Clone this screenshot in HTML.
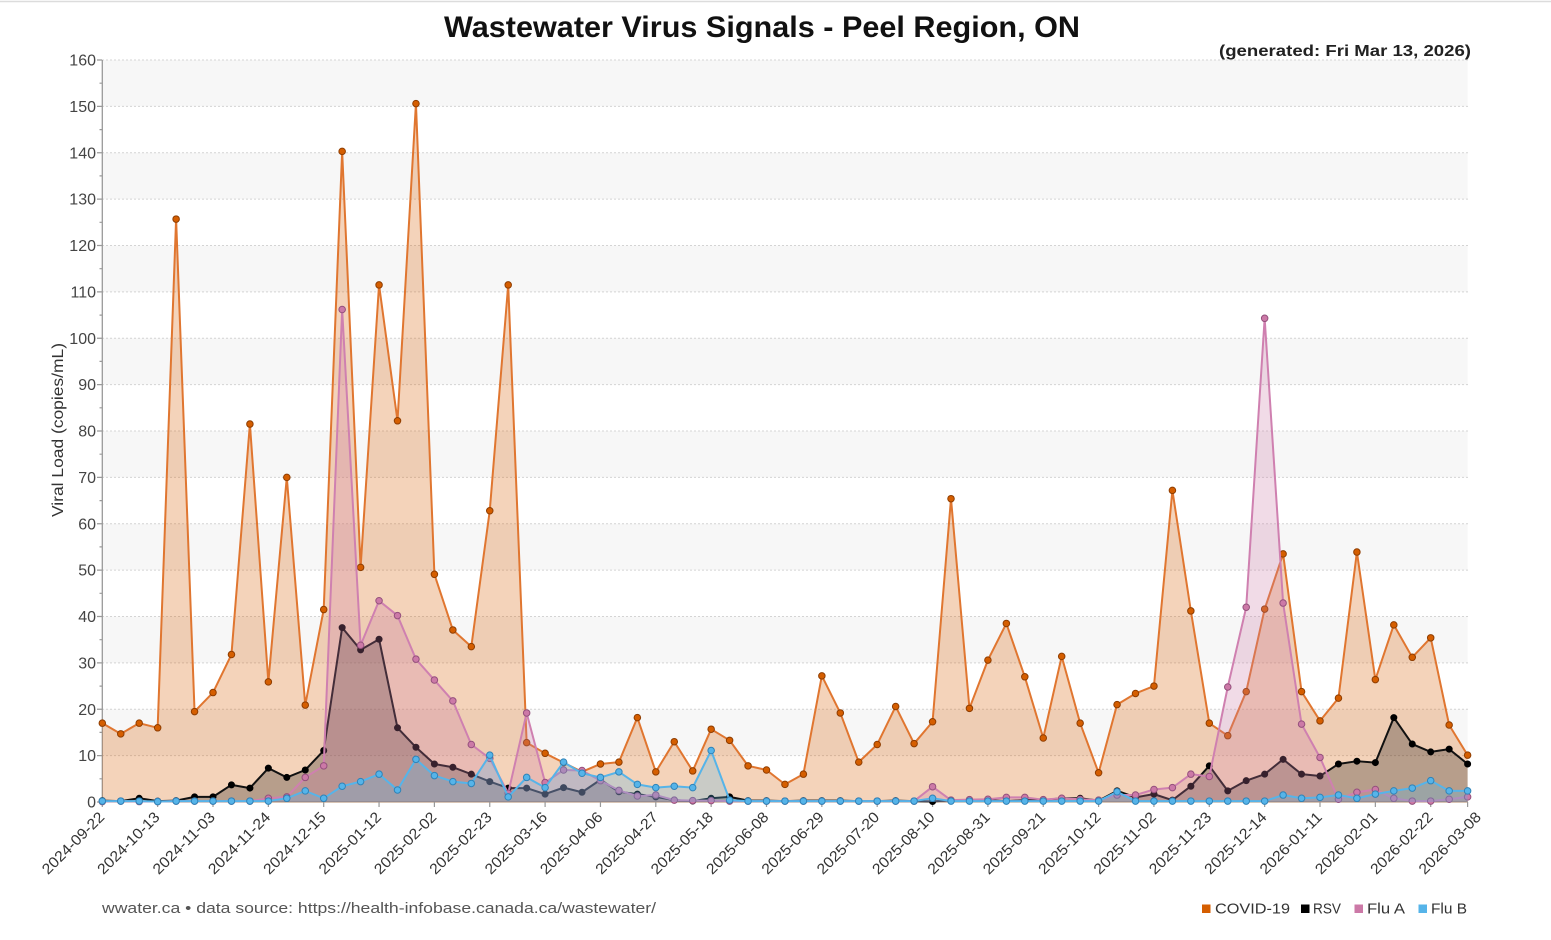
<!DOCTYPE html>
<html>
<head>
<meta charset="utf-8">
<style>
html,body{margin:0;padding:0;background:#fff;}
svg{display:block;font-family:"Liberation Sans","DejaVu Sans",sans-serif;}
</style>
</head>
<body>
<svg width="1551" height="940" viewBox="0 0 1551 940" xmlns="http://www.w3.org/2000/svg">
<rect x="0" y="0" width="1551" height="940" fill="#fff"/>
<line x1="0" y1="1.5" x2="1551" y2="1.5" stroke="#dcdcdc" stroke-width="1.5"/>

<!-- title -->
<text x="444" y="37" font-size="30" font-weight="bold" fill="#111" textLength="636" lengthAdjust="spacingAndGlyphs">Wastewater Virus Signals - Peel Region, ON</text>
<text x="1219" y="56" font-size="16" font-weight="bold" fill="#222" textLength="252" lengthAdjust="spacingAndGlyphs">(generated: Fri Mar 13, 2026)</text>

<!-- bands -->
<g transform="translate(102.3,802) scale(18.45,-4.6375)" fill="#f7f7f7">
<rect x="0" y="10" width="74" height="10"/>
<rect x="0" y="30" width="74" height="10"/>
<rect x="0" y="50" width="74" height="10"/>
<rect x="0" y="70" width="74" height="10"/>
<rect x="0" y="90" width="74" height="10"/>
<rect x="0" y="110" width="74" height="10"/>
<rect x="0" y="130" width="74" height="10"/>
<rect x="0" y="150" width="74" height="10"/>
</g>

<!-- gridlines -->
<g stroke="#d4d4d4" stroke-width="1" stroke-dasharray="2,2">
<line x1="102" x2="1468" y1="755.6" y2="755.6"/>
<line x1="102" x2="1468" y1="709.25" y2="709.25"/>
<line x1="102" x2="1468" y1="662.9" y2="662.9"/>
<line x1="102" x2="1468" y1="616.5" y2="616.5"/>
<line x1="102" x2="1468" y1="570.1" y2="570.1"/>
<line x1="102" x2="1468" y1="523.75" y2="523.75"/>
<line x1="102" x2="1468" y1="477.4" y2="477.4"/>
<line x1="102" x2="1468" y1="431" y2="431"/>
<line x1="102" x2="1468" y1="384.6" y2="384.6"/>
<line x1="102" x2="1468" y1="338.25" y2="338.25"/>
<line x1="102" x2="1468" y1="291.9" y2="291.9"/>
<line x1="102" x2="1468" y1="245.5" y2="245.5"/>
<line x1="102" x2="1468" y1="199.1" y2="199.1"/>
<line x1="102" x2="1468" y1="152.75" y2="152.75"/>
<line x1="102" x2="1468" y1="106.4" y2="106.4"/>
<line x1="102" x2="1468" y1="60" y2="60"/>
</g>

<!-- axes -->
<line x1="102.3" y1="60" x2="102.3" y2="802" stroke="#999" stroke-width="1.3"/>
<line x1="102" y1="802" x2="1468" y2="802" stroke="#b08a6a" stroke-width="1"/>
<path stroke="#999" stroke-width="1.2" fill="none" d="M97 802H102M97 755.6H102M97 709.25H102M97 662.9H102M97 616.5H102M97 570.1H102M97 523.75H102M97 477.4H102M97 431H102M97 384.6H102M97 338.25H102M97 291.9H102M97 245.5H102M97 199.1H102M97 152.75H102M97 106.4H102M97 60H102
M99.5 778.8H102M99.5 732.4H102M99.5 686.1H102M99.5 639.7H102M99.5 593.3H102M99.5 546.9H102M99.5 500.6H102M99.5 454.2H102M99.5 407.8H102M99.5 361.4H102M99.5 315.1H102M99.5 268.7H102M99.5 222.3H102M99.5 175.9H102M99.5 129.6H102M99.5 83.2H102"/>
<path stroke="#999" stroke-width="1.2" fill="none" d="M102.3 802V807M157.65 802V807M213 802V807M268.35 802V807M323.7 802V807M379.05 802V807M434.4 802V807M489.75 802V807M545.1 802V807M600.45 802V807M655.8 802V807M711.15 802V807M766.5 802V807M821.85 802V807M877.2 802V807M932.55 802V807M987.9 802V807M1043.25 802V807M1098.6 802V807M1153.95 802V807M1209.3 802V807M1264.65 802V807M1320 802V807M1375.35 802V807M1430.7 802V807M1467.6 802V807"/>

<!-- y tick labels -->
<g font-size="16" fill="#444" text-anchor="end">
<text x="96" y="807.5">0</text>
<text x="96" y="761.1">10</text>
<text x="96" y="714.75">20</text>
<text x="96" y="668.4">30</text>
<text x="96" y="622">40</text>
<text x="96" y="575.6">50</text>
<text x="96" y="529.25">60</text>
<text x="96" y="482.9">70</text>
<text x="96" y="436.5">80</text>
<text x="96" y="390.1">90</text>
<text x="96" y="343.75">100</text>
<text x="96" y="297.4">110</text>
<text x="96" y="251">120</text>
<text x="96" y="204.6">130</text>
<text x="96" y="158.25">140</text>
<text x="96" y="111.9">150</text>
<text x="96" y="65.5">160</text>
</g>
<text transform="translate(63,430) rotate(-90)" text-anchor="middle" font-size="15.5" fill="#333" textLength="174" lengthAdjust="spacingAndGlyphs">Viral Load (copies/mL)</text>

<!-- series -->
<g transform="translate(102.3,802) scale(18.45,-4.6375)">
<!-- COVID -->
<polygon fill="#D55E00" fill-opacity="0.27" points="0,0 0,17 1,14.7 2,17 3,16 4,125.7 5,19.5 6,23.6 7,31.8 8,81.5 9,25.9 10,70 11,20.9 12,41.5 13,140.3 14,50.6 15,111.5 16,82.2 17,150.6 18,49.1 19,37.1 20,33.5 21,62.8 22,111.5 23,12.8 24,10.5 25,8.5 26,6.5 27,8.2 28,8.6 29,18.2 30,6.5 31,13 32,6.7 33,15.7 34,13.3 35,7.8 36,6.9 37,3.8 38,6 39,27.2 40,19.2 41,8.6 42,12.4 43,20.6 44,12.6 45,17.3 46,65.4 47,20.2 48,30.6 49,38.5 50,27 51,13.8 52,31.4 53,17 54,6.3 55,21 56,23.4 57,25 58,67.2 59,41.2 60,17 61,14.3 62,23.8 63,41.6 64,53.5 65,23.8 66,17.5 67,22.4 68,53.9 69,26.4 70,38.2 71,31.2 72,35.4 73,16.6 74,10.1 74,0"/>
<polyline fill="none" stroke="#e07630" stroke-width="2" stroke-linejoin="round" vector-effect="non-scaling-stroke" points="0,17 1,14.7 2,17 3,16 4,125.7 5,19.5 6,23.6 7,31.8 8,81.5 9,25.9 10,70 11,20.9 12,41.5 13,140.3 14,50.6 15,111.5 16,82.2 17,150.6 18,49.1 19,37.1 20,33.5 21,62.8 22,111.5 23,12.8 24,10.5 25,8.5 26,6.5 27,8.2 28,8.6 29,18.2 30,6.5 31,13 32,6.7 33,15.7 34,13.3 35,7.8 36,6.9 37,3.8 38,6 39,27.2 40,19.2 41,8.6 42,12.4 43,20.6 44,12.6 45,17.3 46,65.4 47,20.2 48,30.6 49,38.5 50,27 51,13.8 52,31.4 53,17 54,6.3 55,21 56,23.4 57,25 58,67.2 59,41.2 60,17 61,14.3 62,23.8 63,41.6 64,53.5 65,23.8 66,17.5 67,22.4 68,53.9 69,26.4 70,38.2 71,31.2 72,35.4 73,16.6 74,10.1"/>
<path id="dc" fill="none" stroke="#8f3d00" stroke-width="7.5" stroke-linecap="round" vector-effect="non-scaling-stroke" d="M0,17h0.001M1,14.7h0.001M2,17h0.001M3,16h0.001M4,125.7h0.001M5,19.5h0.001M6,23.6h0.001M7,31.8h0.001M8,81.5h0.001M9,25.9h0.001M10,70h0.001M11,20.9h0.001M12,41.5h0.001M13,140.3h0.001M14,50.6h0.001M15,111.5h0.001M16,82.2h0.001M17,150.6h0.001M18,49.1h0.001M19,37.1h0.001M20,33.5h0.001M21,62.8h0.001M22,111.5h0.001M23,12.8h0.001M24,10.5h0.001M25,8.5h0.001M26,6.5h0.001M27,8.2h0.001M28,8.6h0.001M29,18.2h0.001M30,6.5h0.001M31,13h0.001M32,6.7h0.001M33,15.7h0.001M34,13.3h0.001M35,7.8h0.001M36,6.9h0.001M37,3.8h0.001M38,6h0.001M39,27.2h0.001M40,19.2h0.001M41,8.6h0.001M42,12.4h0.001M43,20.6h0.001M44,12.6h0.001M45,17.3h0.001M46,65.4h0.001M47,20.2h0.001M48,30.6h0.001M49,38.5h0.001M50,27h0.001M51,13.8h0.001M52,31.4h0.001M53,17h0.001M54,6.3h0.001M55,21h0.001M56,23.4h0.001M57,25h0.001M58,67.2h0.001M59,41.2h0.001M60,17h0.001M61,14.3h0.001M62,23.8h0.001M63,41.6h0.001M64,53.5h0.001M65,23.8h0.001M66,17.5h0.001M67,22.4h0.001M68,53.9h0.001M69,26.4h0.001M70,38.2h0.001M71,31.2h0.001M72,35.4h0.001M73,16.6h0.001M74,10.1h0.001"/>
<path fill="none" stroke="#D55E00" stroke-width="5.5" stroke-linecap="round" vector-effect="non-scaling-stroke" d="M0,17h0.001M1,14.7h0.001M2,17h0.001M3,16h0.001M4,125.7h0.001M5,19.5h0.001M6,23.6h0.001M7,31.8h0.001M8,81.5h0.001M9,25.9h0.001M10,70h0.001M11,20.9h0.001M12,41.5h0.001M13,140.3h0.001M14,50.6h0.001M15,111.5h0.001M16,82.2h0.001M17,150.6h0.001M18,49.1h0.001M19,37.1h0.001M20,33.5h0.001M21,62.8h0.001M22,111.5h0.001M23,12.8h0.001M24,10.5h0.001M25,8.5h0.001M26,6.5h0.001M27,8.2h0.001M28,8.6h0.001M29,18.2h0.001M30,6.5h0.001M31,13h0.001M32,6.7h0.001M33,15.7h0.001M34,13.3h0.001M35,7.8h0.001M36,6.9h0.001M37,3.8h0.001M38,6h0.001M39,27.2h0.001M40,19.2h0.001M41,8.6h0.001M42,12.4h0.001M43,20.6h0.001M44,12.6h0.001M45,17.3h0.001M46,65.4h0.001M47,20.2h0.001M48,30.6h0.001M49,38.5h0.001M50,27h0.001M51,13.8h0.001M52,31.4h0.001M53,17h0.001M54,6.3h0.001M55,21h0.001M56,23.4h0.001M57,25h0.001M58,67.2h0.001M59,41.2h0.001M60,17h0.001M61,14.3h0.001M62,23.8h0.001M63,41.6h0.001M64,53.5h0.001M65,23.8h0.001M66,17.5h0.001M67,22.4h0.001M68,53.9h0.001M69,26.4h0.001M70,38.2h0.001M71,31.2h0.001M72,35.4h0.001M73,16.6h0.001M74,10.1h0.001"/>

<!-- RSV -->
<polygon fill="#000" fill-opacity="0.25" points="0,0 0,0.3 1,0.2 2,0.8 3,0.2 4,0.3 5,1.1 6,1.1 7,3.7 8,3 9,7.3 10,5.3 11,6.9 12,11.1 13,37.6 14,32.8 15,35.1 16,16 17,11.8 18,8.2 19,7.5 20,6 21,4.4 22,3 23,3 24,1.7 25,3.1 26,2.1 27,4.8 28,2.2 29,1.7 30,1.1 31,0.4 32,0.2 33,0.8 34,1.1 35,0.3 36,0.3 37,0.2 38,0.3 39,0.3 40,0.3 41,0.2 42,0.2 43,0.3 44,0.2 45,0.1 46,0.4 47,0.4 48,0.4 49,0.2 50,0.4 51,0.4 52,0.8 53,0.8 54,0.3 55,2.4 56,1 57,1.7 58,0.4 59,3.4 60,7.8 61,2.4 62,4.6 63,6 64,9.2 65,6 66,5.6 67,8.2 68,8.8 69,8.5 70,18.2 71,12.5 72,10.8 73,11.4 74,8.2 74,0"/>
<polyline fill="none" stroke="#111" stroke-width="2" stroke-linejoin="round" vector-effect="non-scaling-stroke" points="0,0.3 1,0.2 2,0.8 3,0.2 4,0.3 5,1.1 6,1.1 7,3.7 8,3 9,7.3 10,5.3 11,6.9 12,11.1 13,37.6 14,32.8 15,35.1 16,16 17,11.8 18,8.2 19,7.5 20,6 21,4.4 22,3 23,3 24,1.7 25,3.1 26,2.1 27,4.8 28,2.2 29,1.7 30,1.1 31,0.4 32,0.2 33,0.8 34,1.1 35,0.3 36,0.3 37,0.2 38,0.3 39,0.3 40,0.3 41,0.2 42,0.2 43,0.3 44,0.2 45,0.1 46,0.4 47,0.4 48,0.4 49,0.2 50,0.4 51,0.4 52,0.8 53,0.8 54,0.3 55,2.4 56,1 57,1.7 58,0.4 59,3.4 60,7.8 61,2.4 62,4.6 63,6 64,9.2 65,6 66,5.6 67,8.2 68,8.8 69,8.5 70,18.2 71,12.5 72,10.8 73,11.4 74,8.2"/>
<path fill="none" stroke="#000" stroke-width="7" stroke-linecap="round" vector-effect="non-scaling-stroke" d="M0,0.3h0.001M1,0.2h0.001M2,0.8h0.001M3,0.2h0.001M4,0.3h0.001M5,1.1h0.001M6,1.1h0.001M7,3.7h0.001M8,3h0.001M9,7.3h0.001M10,5.3h0.001M11,6.9h0.001M12,11.1h0.001M13,37.6h0.001M14,32.8h0.001M15,35.1h0.001M16,16h0.001M17,11.8h0.001M18,8.2h0.001M19,7.5h0.001M20,6h0.001M21,4.4h0.001M22,3h0.001M23,3h0.001M24,1.7h0.001M25,3.1h0.001M26,2.1h0.001M27,4.8h0.001M28,2.2h0.001M29,1.7h0.001M30,1.1h0.001M31,0.4h0.001M32,0.2h0.001M33,0.8h0.001M34,1.1h0.001M35,0.3h0.001M36,0.3h0.001M37,0.2h0.001M38,0.3h0.001M39,0.3h0.001M40,0.3h0.001M41,0.2h0.001M42,0.2h0.001M43,0.3h0.001M44,0.2h0.001M45,0.1h0.001M46,0.4h0.001M47,0.4h0.001M48,0.4h0.001M49,0.2h0.001M50,0.4h0.001M51,0.4h0.001M52,0.8h0.001M53,0.8h0.001M54,0.3h0.001M55,2.4h0.001M56,1h0.001M57,1.7h0.001M58,0.4h0.001M59,3.4h0.001M60,7.8h0.001M61,2.4h0.001M62,4.6h0.001M63,6h0.001M64,9.2h0.001M65,6h0.001M66,5.6h0.001M67,8.2h0.001M68,8.8h0.001M69,8.5h0.001M70,18.2h0.001M71,12.5h0.001M72,10.8h0.001M73,11.4h0.001M74,8.2h0.001"/>

<!-- Flu A -->
<polygon fill="#CC79A7" fill-opacity="0.27" points="0,0 0,0.1 1,0.2 2,0.1 3,0.1 4,0.2 5,0.2 6,0.2 7,0.2 8,0.2 9,0.8 10,1.1 11,5.3 12,7.8 13,106.2 14,33.8 15,43.4 16,40.2 17,30.8 18,26.3 19,21.8 20,12.4 21,9.4 22,1.9 23,19.2 24,4.2 25,6.9 26,6.8 27,4.6 28,2.5 29,1.3 30,1.5 31,0.4 32,0.3 33,0.3 34,0.2 35,0.2 36,0.2 37,0.2 38,0.2 39,0.2 40,0.2 41,0.2 42,0.2 43,0.2 44,0.2 45,3.3 46,0.4 47,0.5 48,0.6 49,1 50,1 51,0.5 52,0.8 53,0.6 54,0.4 55,1.5 56,1.5 57,2.7 58,3.1 59,6 60,5.5 61,24.8 62,42 63,104.3 64,42.9 65,16.8 66,9.6 67,0.6 68,2.1 69,2.7 70,0.8 71,0.2 72,0.2 73,0.6 74,1.1 74,0"/>
<polyline fill="none" stroke="#cf80b0" stroke-width="2" stroke-linejoin="round" vector-effect="non-scaling-stroke" points="0,0.1 1,0.2 2,0.1 3,0.1 4,0.2 5,0.2 6,0.2 7,0.2 8,0.2 9,0.8 10,1.1 11,5.3 12,7.8 13,106.2 14,33.8 15,43.4 16,40.2 17,30.8 18,26.3 19,21.8 20,12.4 21,9.4 22,1.9 23,19.2 24,4.2 25,6.9 26,6.8 27,4.6 28,2.5 29,1.3 30,1.5 31,0.4 32,0.3 33,0.3 34,0.2 35,0.2 36,0.2 37,0.2 38,0.2 39,0.2 40,0.2 41,0.2 42,0.2 43,0.2 44,0.2 45,3.3 46,0.4 47,0.5 48,0.6 49,1 50,1 51,0.5 52,0.8 53,0.6 54,0.4 55,1.5 56,1.5 57,2.7 58,3.1 59,6 60,5.5 61,24.8 62,42 63,104.3 64,42.9 65,16.8 66,9.6 67,0.6 68,2.1 69,2.7 70,0.8 71,0.2 72,0.2 73,0.6 74,1.1"/>
<path fill="none" stroke="#94507c" stroke-width="7.5" stroke-linecap="round" vector-effect="non-scaling-stroke" d="M0,0.1h0.001M1,0.2h0.001M2,0.1h0.001M3,0.1h0.001M4,0.2h0.001M5,0.2h0.001M6,0.2h0.001M7,0.2h0.001M8,0.2h0.001M9,0.8h0.001M10,1.1h0.001M11,5.3h0.001M12,7.8h0.001M13,106.2h0.001M14,33.8h0.001M15,43.4h0.001M16,40.2h0.001M17,30.8h0.001M18,26.3h0.001M19,21.8h0.001M20,12.4h0.001M21,9.4h0.001M22,1.9h0.001M23,19.2h0.001M24,4.2h0.001M25,6.9h0.001M26,6.8h0.001M27,4.6h0.001M28,2.5h0.001M29,1.3h0.001M30,1.5h0.001M31,0.4h0.001M32,0.3h0.001M33,0.3h0.001M34,0.2h0.001M35,0.2h0.001M36,0.2h0.001M37,0.2h0.001M38,0.2h0.001M39,0.2h0.001M40,0.2h0.001M41,0.2h0.001M42,0.2h0.001M43,0.2h0.001M44,0.2h0.001M45,3.3h0.001M46,0.4h0.001M47,0.5h0.001M48,0.6h0.001M49,1h0.001M50,1h0.001M51,0.5h0.001M52,0.8h0.001M53,0.6h0.001M54,0.4h0.001M55,1.5h0.001M56,1.5h0.001M57,2.7h0.001M58,3.1h0.001M59,6h0.001M60,5.5h0.001M61,24.8h0.001M62,42h0.001M63,104.3h0.001M64,42.9h0.001M65,16.8h0.001M66,9.6h0.001M67,0.6h0.001M68,2.1h0.001M69,2.7h0.001M70,0.8h0.001M71,0.2h0.001M72,0.2h0.001M73,0.6h0.001M74,1.1h0.001"/>
<path fill="none" stroke="#CC79A7" stroke-width="5.5" stroke-linecap="round" vector-effect="non-scaling-stroke" d="M0,0.1h0.001M1,0.2h0.001M2,0.1h0.001M3,0.1h0.001M4,0.2h0.001M5,0.2h0.001M6,0.2h0.001M7,0.2h0.001M8,0.2h0.001M9,0.8h0.001M10,1.1h0.001M11,5.3h0.001M12,7.8h0.001M13,106.2h0.001M14,33.8h0.001M15,43.4h0.001M16,40.2h0.001M17,30.8h0.001M18,26.3h0.001M19,21.8h0.001M20,12.4h0.001M21,9.4h0.001M22,1.9h0.001M23,19.2h0.001M24,4.2h0.001M25,6.9h0.001M26,6.8h0.001M27,4.6h0.001M28,2.5h0.001M29,1.3h0.001M30,1.5h0.001M31,0.4h0.001M32,0.3h0.001M33,0.3h0.001M34,0.2h0.001M35,0.2h0.001M36,0.2h0.001M37,0.2h0.001M38,0.2h0.001M39,0.2h0.001M40,0.2h0.001M41,0.2h0.001M42,0.2h0.001M43,0.2h0.001M44,0.2h0.001M45,3.3h0.001M46,0.4h0.001M47,0.5h0.001M48,0.6h0.001M49,1h0.001M50,1h0.001M51,0.5h0.001M52,0.8h0.001M53,0.6h0.001M54,0.4h0.001M55,1.5h0.001M56,1.5h0.001M57,2.7h0.001M58,3.1h0.001M59,6h0.001M60,5.5h0.001M61,24.8h0.001M62,42h0.001M63,104.3h0.001M64,42.9h0.001M65,16.8h0.001M66,9.6h0.001M67,0.6h0.001M68,2.1h0.001M69,2.7h0.001M70,0.8h0.001M71,0.2h0.001M72,0.2h0.001M73,0.6h0.001M74,1.1h0.001"/>

<!-- Flu B -->
<polygon fill="#56B4E9" fill-opacity="0.27" points="0,0 0,0.2 1,0.2 2,0.2 3,0.1 4,0.2 5,0.2 6,0.2 7,0.2 8,0.2 9,0.2 10,0.8 11,2.4 12,0.8 13,3.4 14,4.4 15,6 16,2.6 17,9.2 18,5.7 19,4.4 20,4 21,10.1 22,1.1 23,5.3 24,3.1 25,8.6 26,6.2 27,5.3 28,6.5 29,3.8 30,3.1 31,3.4 32,3.1 33,11.1 34,0.4 35,0.2 36,0.2 37,0.2 38,0.2 39,0.2 40,0.2 41,0.2 42,0.2 43,0.2 44,0.2 45,0.8 46,0.2 47,0.2 48,0.2 49,0.2 50,0.2 51,0.2 52,0.2 53,0.2 54,0.2 55,2.2 56,0.2 57,0.2 58,0.2 59,0.2 60,0.2 61,0.2 62,0.2 63,0.2 64,1.5 65,0.8 66,1 67,1.5 68,0.8 69,1.7 70,2.4 71,3 72,4.6 73,2.4 74,2.4 74,0"/>
<polyline fill="none" stroke="#56B4E9" stroke-width="2" stroke-linejoin="round" vector-effect="non-scaling-stroke" points="0,0.2 1,0.2 2,0.2 3,0.1 4,0.2 5,0.2 6,0.2 7,0.2 8,0.2 9,0.2 10,0.8 11,2.4 12,0.8 13,3.4 14,4.4 15,6 16,2.6 17,9.2 18,5.7 19,4.4 20,4 21,10.1 22,1.1 23,5.3 24,3.1 25,8.6 26,6.2 27,5.3 28,6.5 29,3.8 30,3.1 31,3.4 32,3.1 33,11.1 34,0.4 35,0.2 36,0.2 37,0.2 38,0.2 39,0.2 40,0.2 41,0.2 42,0.2 43,0.2 44,0.2 45,0.8 46,0.2 47,0.2 48,0.2 49,0.2 50,0.2 51,0.2 52,0.2 53,0.2 54,0.2 55,2.2 56,0.2 57,0.2 58,0.2 59,0.2 60,0.2 61,0.2 62,0.2 63,0.2 64,1.5 65,0.8 66,1 67,1.5 68,0.8 69,1.7 70,2.4 71,3 72,4.6 73,2.4 74,2.4"/>
<path fill="none" stroke="#2f83b8" stroke-width="7.5" stroke-linecap="round" vector-effect="non-scaling-stroke" d="M0,0.2h0.001M1,0.2h0.001M2,0.2h0.001M3,0.1h0.001M4,0.2h0.001M5,0.2h0.001M6,0.2h0.001M7,0.2h0.001M8,0.2h0.001M9,0.2h0.001M10,0.8h0.001M11,2.4h0.001M12,0.8h0.001M13,3.4h0.001M14,4.4h0.001M15,6h0.001M16,2.6h0.001M17,9.2h0.001M18,5.7h0.001M19,4.4h0.001M20,4h0.001M21,10.1h0.001M22,1.1h0.001M23,5.3h0.001M24,3.1h0.001M25,8.6h0.001M26,6.2h0.001M27,5.3h0.001M28,6.5h0.001M29,3.8h0.001M30,3.1h0.001M31,3.4h0.001M32,3.1h0.001M33,11.1h0.001M34,0.4h0.001M35,0.2h0.001M36,0.2h0.001M37,0.2h0.001M38,0.2h0.001M39,0.2h0.001M40,0.2h0.001M41,0.2h0.001M42,0.2h0.001M43,0.2h0.001M44,0.2h0.001M45,0.8h0.001M46,0.2h0.001M47,0.2h0.001M48,0.2h0.001M49,0.2h0.001M50,0.2h0.001M51,0.2h0.001M52,0.2h0.001M53,0.2h0.001M54,0.2h0.001M55,2.2h0.001M56,0.2h0.001M57,0.2h0.001M58,0.2h0.001M59,0.2h0.001M60,0.2h0.001M61,0.2h0.001M62,0.2h0.001M63,0.2h0.001M64,1.5h0.001M65,0.8h0.001M66,1h0.001M67,1.5h0.001M68,0.8h0.001M69,1.7h0.001M70,2.4h0.001M71,3h0.001M72,4.6h0.001M73,2.4h0.001M74,2.4h0.001"/>
<path fill="none" stroke="#56B4E9" stroke-width="5.5" stroke-linecap="round" vector-effect="non-scaling-stroke" d="M0,0.2h0.001M1,0.2h0.001M2,0.2h0.001M3,0.1h0.001M4,0.2h0.001M5,0.2h0.001M6,0.2h0.001M7,0.2h0.001M8,0.2h0.001M9,0.2h0.001M10,0.8h0.001M11,2.4h0.001M12,0.8h0.001M13,3.4h0.001M14,4.4h0.001M15,6h0.001M16,2.6h0.001M17,9.2h0.001M18,5.7h0.001M19,4.4h0.001M20,4h0.001M21,10.1h0.001M22,1.1h0.001M23,5.3h0.001M24,3.1h0.001M25,8.6h0.001M26,6.2h0.001M27,5.3h0.001M28,6.5h0.001M29,3.8h0.001M30,3.1h0.001M31,3.4h0.001M32,3.1h0.001M33,11.1h0.001M34,0.4h0.001M35,0.2h0.001M36,0.2h0.001M37,0.2h0.001M38,0.2h0.001M39,0.2h0.001M40,0.2h0.001M41,0.2h0.001M42,0.2h0.001M43,0.2h0.001M44,0.2h0.001M45,0.8h0.001M46,0.2h0.001M47,0.2h0.001M48,0.2h0.001M49,0.2h0.001M50,0.2h0.001M51,0.2h0.001M52,0.2h0.001M53,0.2h0.001M54,0.2h0.001M55,2.2h0.001M56,0.2h0.001M57,0.2h0.001M58,0.2h0.001M59,0.2h0.001M60,0.2h0.001M61,0.2h0.001M62,0.2h0.001M63,0.2h0.001M64,1.5h0.001M65,0.8h0.001M66,1h0.001M67,1.5h0.001M68,0.8h0.001M69,1.7h0.001M70,2.4h0.001M71,3h0.001M72,4.6h0.001M73,2.4h0.001M74,2.4h0.001"/>
</g>

<!-- x tick labels -->
<g font-size="15" fill="#333" text-anchor="end">
<text transform="translate(105.3,818) rotate(-45)" textLength="81" lengthAdjust="spacingAndGlyphs">2024-09-22</text>
<text transform="translate(160.65,818) rotate(-45)" textLength="81" lengthAdjust="spacingAndGlyphs">2024-10-13</text>
<text transform="translate(216,818) rotate(-45)" textLength="81" lengthAdjust="spacingAndGlyphs">2024-11-03</text>
<text transform="translate(271.35,818) rotate(-45)" textLength="81" lengthAdjust="spacingAndGlyphs">2024-11-24</text>
<text transform="translate(326.7,818) rotate(-45)" textLength="81" lengthAdjust="spacingAndGlyphs">2024-12-15</text>
<text transform="translate(382.05,818) rotate(-45)" textLength="81" lengthAdjust="spacingAndGlyphs">2025-01-12</text>
<text transform="translate(437.4,818) rotate(-45)" textLength="81" lengthAdjust="spacingAndGlyphs">2025-02-02</text>
<text transform="translate(492.75,818) rotate(-45)" textLength="81" lengthAdjust="spacingAndGlyphs">2025-02-23</text>
<text transform="translate(548.1,818) rotate(-45)" textLength="81" lengthAdjust="spacingAndGlyphs">2025-03-16</text>
<text transform="translate(603.45,818) rotate(-45)" textLength="81" lengthAdjust="spacingAndGlyphs">2025-04-06</text>
<text transform="translate(658.8,818) rotate(-45)" textLength="81" lengthAdjust="spacingAndGlyphs">2025-04-27</text>
<text transform="translate(714.15,818) rotate(-45)" textLength="81" lengthAdjust="spacingAndGlyphs">2025-05-18</text>
<text transform="translate(769.5,818) rotate(-45)" textLength="81" lengthAdjust="spacingAndGlyphs">2025-06-08</text>
<text transform="translate(824.85,818) rotate(-45)" textLength="81" lengthAdjust="spacingAndGlyphs">2025-06-29</text>
<text transform="translate(880.2,818) rotate(-45)" textLength="81" lengthAdjust="spacingAndGlyphs">2025-07-20</text>
<text transform="translate(935.55,818) rotate(-45)" textLength="81" lengthAdjust="spacingAndGlyphs">2025-08-10</text>
<text transform="translate(990.9,818) rotate(-45)" textLength="81" lengthAdjust="spacingAndGlyphs">2025-08-31</text>
<text transform="translate(1046.25,818) rotate(-45)" textLength="81" lengthAdjust="spacingAndGlyphs">2025-09-21</text>
<text transform="translate(1101.6,818) rotate(-45)" textLength="81" lengthAdjust="spacingAndGlyphs">2025-10-12</text>
<text transform="translate(1156.95,818) rotate(-45)" textLength="81" lengthAdjust="spacingAndGlyphs">2025-11-02</text>
<text transform="translate(1212.3,818) rotate(-45)" textLength="81" lengthAdjust="spacingAndGlyphs">2025-11-23</text>
<text transform="translate(1267.65,818) rotate(-45)" textLength="81" lengthAdjust="spacingAndGlyphs">2025-12-14</text>
<text transform="translate(1323,818) rotate(-45)" textLength="81" lengthAdjust="spacingAndGlyphs">2026-01-11</text>
<text transform="translate(1378.35,818) rotate(-45)" textLength="81" lengthAdjust="spacingAndGlyphs">2026-02-01</text>
<text transform="translate(1433.7,818) rotate(-45)" textLength="81" lengthAdjust="spacingAndGlyphs">2026-02-22</text>
<text transform="translate(1482,818) rotate(-45)" textLength="81" lengthAdjust="spacingAndGlyphs">2026-03-08</text>
</g>

<!-- footer -->
<text x="102" y="913" font-size="15" fill="#555" textLength="554" lengthAdjust="spacingAndGlyphs">wwater.ca • data source: https://health-infobase.canada.ca/wastewater/</text>

<!-- legend -->
<rect x="1202" y="904.5" width="8.5" height="8.5" fill="#D55E00"/>
<text x="1215" y="913.5" font-size="15" fill="#333" textLength="75" lengthAdjust="spacingAndGlyphs">COVID-19</text>
<rect x="1301" y="904.5" width="8.5" height="8.5" fill="#000"/>
<text x="1313" y="913.5" font-size="15" fill="#333" textLength="28" lengthAdjust="spacingAndGlyphs">RSV</text>
<rect x="1354.5" y="904.5" width="8.5" height="8.5" fill="#CC79A7"/>
<text x="1367" y="913.5" font-size="15" fill="#333" textLength="38" lengthAdjust="spacingAndGlyphs">Flu A</text>
<rect x="1418.5" y="904.5" width="8.5" height="8.5" fill="#56B4E9"/>
<text x="1431" y="913.5" font-size="15" fill="#333" textLength="36" lengthAdjust="spacingAndGlyphs">Flu B</text>
</svg>
</body>
</html>
